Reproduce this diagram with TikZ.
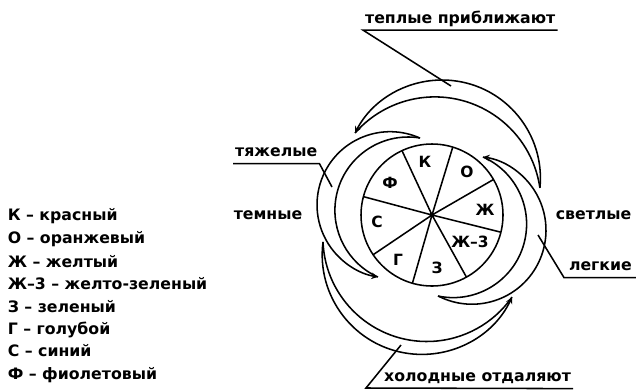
\documentclass[tikz,border=0pt]{standalone}
\usepackage{fontspec}
\setmainfont{DejaVu Sans}
\tikzset{
  lbl/.style={font=\bfseries\fontsize{11.2}{13}\selectfont, inner sep=0pt, anchor=base west},
  ulbl/.style={lbl, inner xsep=1pt, inner ysep=2pt, text depth=2.5pt},
  sector/.style={font=\bfseries\fontsize{11}{13}\selectfont, inner sep=0pt},
}
\begin{document}
\begin{tikzpicture}[x=0.025cm, y=0.025cm, >=stealth, line width=1.1pt]
            \useasboundingbox (0,0) rectangle (636,-389);
            % colour wheel
            \coordinate (wc) at (432,-215);
            \draw (wc) circle[radius=71];
            \draw (wc) -- ++(115:71);
            \draw (wc) -- ++(73:71);
            \draw (wc) -- ++(30:71);
            \draw (wc) -- ++(-14:71);
            \draw (wc) -- ++(-61:71);
            \draw (wc) -- ++(-106:71);
            \draw (wc) -- ++(-146:71);
            \draw (wc) -- ++(165:71);
            \fill (wc) circle[radius=2.5];
            \node[sector] (sK) at (425,-162) {К};
            \node[sector] (sO) at (467,-172) {О};
            \node[sector] (sZh) at (485,-210) {Ж};
            \node[sector] (sZhZ) at (470,-242) {Ж–3};
            \node[sector] (sZ) at (437,-268) {З};
            \node[sector] (sG) at (398,-260) {Г};
            \node[sector] (sS) at (377,-222) {С};
            \node[sector] (sF) at (390,-183) {Ф};
            % crescents, all turning the same way
            \draw[->] ([shift={(-5.7:98.2)}]442.2,-178.2) arc[start angle=-5.7, end angle=152.6, radius=98.2];
            \draw ([shift={(8.2:106.2)}]434.8,-203.1) arc[start angle=8.2, end angle=138.7, radius=106.2];
            \draw[->] ([shift={(65.9:73.1)}]390.1,-204.8) arc[start angle=65.9, end angle=260.5, radius=73.1];
            \draw ([shift={(80.7:73.3)}]408.2,-210.3) arc[start angle=80.7, end angle=245.6, radius=73.3];
            \draw[->] ([shift={(172.6:99.6)}]421.8,-254.8) arc[start angle=172.6, end angle=334.9, radius=99.6];
            \draw ([shift={(182.4:103.9)}]426.8,-237.6) arc[start angle=182.4, end angle=325.1, radius=103.9];
            \draw[->] ([shift={(-117.3:74)}]472,-230.2) arc[start angle=-117.3, end angle=81.5, radius=74];
            \draw ([shift={(-101.9:73.5)}]453.1,-224.1) arc[start angle=-101.9, end angle=66, radius=73.5];
            % labels round the wheel
            \node[ulbl] (warm) at (363,-23) {теплые приближают};
            \coordinate (warmEnd) at (451,-86);
            \draw (warmEnd) -- (warm.south west) -- (warm.south east);
            \node[ulbl] (heavy) at (233,-156.5) {тяжелые};
            \coordinate (heavyEnd) at (332,-187);
            \draw (heavyEnd) -- (heavy.south east) -- (heavy.south west);
            \node[lbl] (dark) at (233,-219.5) {темные};
            \node[lbl] (bright) at (555,-219.5) {светлые};
            \node[ulbl, inner xsep=3pt] (lightw) at (564,-270.5) {легкие};
            \coordinate (lightEnd) at (538,-235);
            \draw (lightEnd) -- (lightw.south west) -- (lightw.south east);
            \node[ulbl] (cold) at (382,-381.5) {холодные отдаляют};
            \coordinate (coldEnd) at (401,-345);
            \coordinate (coldFoot) at (366,-388);
            \draw (coldEnd) -- (coldFoot) -- (cold.south east);
            % key
            \node[lbl] (leg1) at (7,-220) {К – красный};
            \node[lbl] (leg2) at (7,-243) {О – оранжевый};
            \node[lbl] (leg3) at (7,-267) {Ж – желтый};
            \node[lbl] (leg4) at (7,-289) {Ж–3 – желто-зеленый};
            \node[lbl] (leg5) at (7,-312) {З – зеленый};
            \node[lbl] (leg6) at (7,-334) {Г – голубой};
            \node[lbl] (leg7) at (7,-356) {С – синий};
            \node[lbl] (leg8) at (7,-379) {Ф – фиолетовый};
        \end{tikzpicture}
\end{document}
